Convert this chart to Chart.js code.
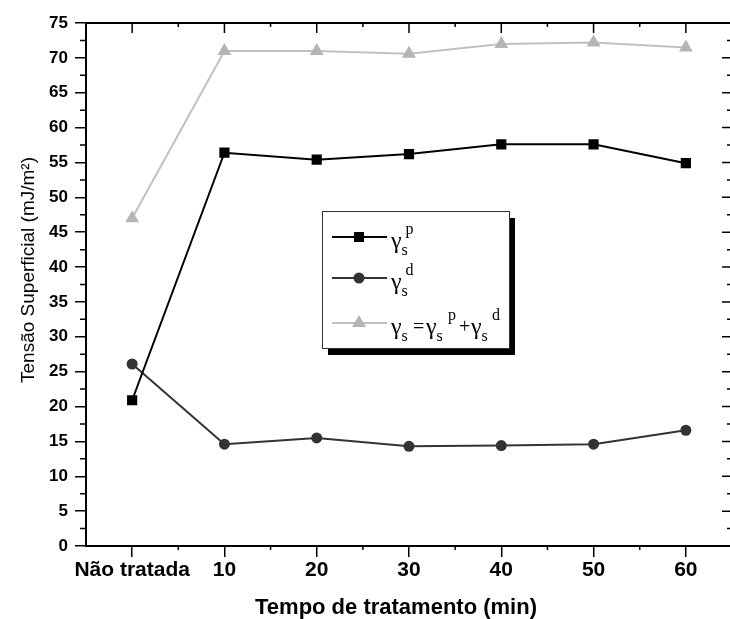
<!DOCTYPE html>
<html>
<head>
<meta charset="utf-8">
<script src="https://cdn.jsdelivr.net/npm/chart.js@4.4.1/dist/chart.umd.min.js"></script>
<style>
  html, body { margin: 0; padding: 0; background: #fff; overflow: hidden; }
  canvas { display: block; }
</style>
</head>
<body>
<canvas id="c" width="740" height="619"></canvas>
<script>
// valores
const categories = ['Não tratada', '10', '20', '30', '40', '50', '60'];
const gammaP = [20.9, 56.4, 55.4, 56.2, 57.6, 57.6, 54.9];
const gammaD = [26.1, 14.6, 15.5, 14.3, 14.4, 14.6, 16.6];
const gammaTotal = [47.0, 71.0, 71.0, 70.6, 72.0, 72.2, 71.5];
const yMin = 0, yMax = 75, yStep = 5;

const SANS = '"Liberation Sans", Arial, sans-serif';
const SERIF = '"Liberation Serif", "Times New Roman", serif';

function marker(ctx, style, x, y, color) {
    ctx.fillStyle = color;
    ctx.beginPath();
    if (style === 'rect') ctx.rect(x - 5, y - 5, 10, 10);
    else if (style === 'circle') ctx.arc(x, y, 5.5, 0, Math.PI * 2);
    else { ctx.moveTo(x, y - 8); ctx.lineTo(x + 6.9, y + 4); ctx.lineTo(x - 6.9, y + 4); ctx.closePath(); }
    ctx.fill();
}

// γ com índice s e expoente opcional
function gam(ctx, x, L, sup, supX) {
    ctx.font = '24px ' + SERIF;
    ctx.fillText('γ', x, L + 11);
    const gw = ctx.measureText('γ').width;
    ctx.font = '16px ' + SERIF;
    ctx.fillText('s', x + gw, L + 18);
    if (sup) ctx.fillText(sup, supX !== undefined ? supX : x + gw + 4, L - 3);
}

const frame = {
    id: 'frame',
    afterDraw(chart) {
        const { ctx, chartArea: a, scales: { x, y } } = chart;
        ctx.save();
        ctx.strokeStyle = '#000';
        ctx.lineWidth = 2;
        ctx.beginPath();
        ctx.moveTo(a.left, a.top); ctx.lineTo(a.right, a.top); ctx.lineTo(a.right, a.bottom);
        ctx.stroke();

        // marcas menores e eixos de cima/direita
        ctx.lineWidth = 1.5;
        ctx.beginPath();
        for (let v = yMin; v <= yMax; v += yStep / 2) {
            const py = y.getPixelForValue(v);
            const major = v % yStep === 0;
            if (!major) { ctx.moveTo(a.left - 6, py); ctx.lineTo(a.left, py); }
            ctx.moveTo(a.right, py); ctx.lineTo(a.right - (major ? 10 : 5), py);
        }
        const dx = x.getPixelForValue(1) - x.getPixelForValue(0);
        categories.forEach((c, i) => {
            const px = x.getPixelForValue(i);
            ctx.moveTo(px, a.top); ctx.lineTo(px, a.top + 10);
            if (i < categories.length - 1) {
                const mx = px + dx / 2;
                ctx.moveTo(mx, a.bottom); ctx.lineTo(mx, a.bottom + 4);
                ctx.moveTo(mx, a.top); ctx.lineTo(mx, a.top + 4);
            }
        });
        ctx.stroke();

        // títulos dos eixos
        ctx.fillStyle = '#000';
        ctx.font = 'bold 22px ' + SANS;
        ctx.textAlign = 'center';
        ctx.textBaseline = 'alphabetic';
        ctx.fillText('Tempo de tratamento (min)', 396, 614);
        ctx.save();
        ctx.translate(34, 270);
        ctx.rotate(-Math.PI / 2);
        ctx.font = '19px ' + SANS;
        ctx.fillText('Tensão Superficial (mJ/m²)', 0, 0);
        ctx.restore();

        // legenda
        ctx.fillStyle = '#000';
        ctx.fillRect(328, 218, 187, 137);
        ctx.fillStyle = '#fff';
        ctx.fillRect(322, 211, 188, 138);
        ctx.strokeStyle = '#333';
        ctx.lineWidth = 1;
        ctx.strokeRect(322.5, 211.5, 187, 137);

        const entries = [
            { L: 237, color: '#000', style: 'rect' },
            { L: 278, color: '#333', style: 'circle' },
            { L: 323, color: '#c0c0c0', style: 'triangle', fill: '#b5b5b5' }
        ];
        entries.forEach(e => {
            ctx.strokeStyle = e.color;
            ctx.lineWidth = 2;
            ctx.beginPath();
            ctx.moveTo(332, e.L); ctx.lineTo(387, e.L);
            ctx.stroke();
            marker(ctx, e.style, 359, e.L, e.fill || e.color);
        });
        ctx.fillStyle = '#000';
        ctx.textAlign = 'left';
        gam(ctx, 391, 237, 'p');
        gam(ctx, 391, 278, 'd');
        gam(ctx, 391, 323);
        ctx.font = '20px ' + SERIF;
        ctx.fillText('=', 413, 333);
        gam(ctx, 426, 323, 'p', 448);
        ctx.font = '20px ' + SERIF;
        ctx.fillText('+', 459, 333);
        gam(ctx, 471, 323, 'd', 492);
        ctx.restore();
    }
};

new Chart(document.getElementById('c'), {
    type: 'line',
    data: {
        labels: categories,
        datasets: [
            { data: gammaTotal, borderColor: '#c0c0c0', backgroundColor: '#b5b5b5', borderWidth: 2,
              pointStyle: 'triangle', pointRadius: 8, pointBorderWidth: 0 },
            { data: gammaP, borderColor: '#000', backgroundColor: '#000', borderWidth: 2,
              pointStyle: 'rect', pointRadius: 7.2, pointBorderWidth: 0 },
            { data: gammaD, borderColor: '#333', backgroundColor: '#333', borderWidth: 2,
              pointStyle: 'circle', pointRadius: 5.5, pointBorderWidth: 0 }
        ]
    },
    options: {
        responsive: false,
        animation: false,
        devicePixelRatio: 1,
        layout: { padding: { top: 23, right: 1, left: 0, bottom: 0 } },
        plugins: { legend: { display: false }, tooltip: { enabled: false } },
        scales: {
            x: {
                offset: true,
                grid: { offset: false, drawOnChartArea: false, tickLength: 11, color: '#000', lineWidth: 1.5 },
                border: { color: '#000', width: 2 },
                ticks: { color: '#000', font: { family: SANS, size: 21, weight: 'bold' }, padding: 1, maxRotation: 0, autoSkip: false },
                afterFit(s) { s.height = 73; }
            },
            y: {
                min: yMin, max: yMax,
                grid: { drawOnChartArea: false, tickLength: 11, color: '#000', lineWidth: 1.5 },
                border: { color: '#000', width: 2 },
                ticks: { stepSize: yStep, color: '#000', font: { family: SANS, size: 17, weight: 'bold' }, padding: 7 },
                afterFit(s) { s.width = 86; }
            }
        }
    },
    plugins: [frame]
});
</script>
</body>
</html>
